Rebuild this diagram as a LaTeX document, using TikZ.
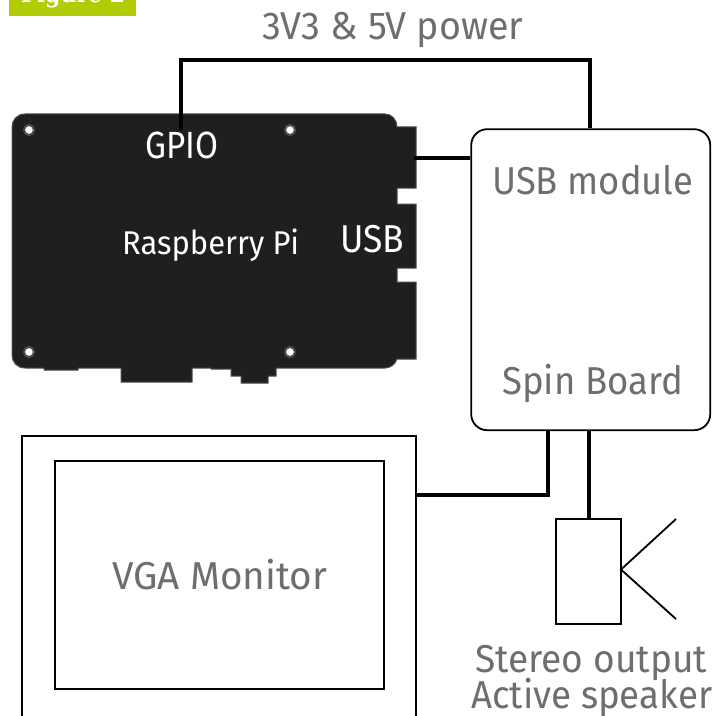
\documentclass[tikz,border=0pt]{standalone}
\usepackage{fontspec}
\setmainfont{Fira Sans}
\newfontfamily\slabfont{DejaVu Serif}
\definecolor{labelgrey}{HTML}{6E6E6E}
\definecolor{boardblack}{HTML}{1F1F1D}
\definecolor{boardedge}{HTML}{4E4E4C}
\definecolor{tabgreen}{HTML}{B1CC05}
\newcommand{\fitw}[2]{\resizebox{#1bp}{\height}{#2}}
\tikzset{
  lbl/.style={inner sep=0pt,anchor=base west,text=labelgrey},
  lblwhite/.style={inner sep=0pt,anchor=base west,text=white},
  wire/.style={draw=black,line width=4bp,line cap=butt,line join=miter},
  thin box/.style={draw=black,line width=1.8bp,fill=white,inner sep=0pt,anchor=north west},
  hole/.style={circle,fill=white,draw=boardedge,line width=2bp,minimum size=10bp,inner sep=0pt}
}
\begin{document}
\begin{tikzpicture}[x=1bp,y=-1bp]
\useasboundingbox (0,0) rectangle (722,716);
% tab
\fill[tabgreen] (9,-2) rectangle (136,16);
\node[lblwhite,text=white] (fig) at (21,3) {\fitw{104}{\fontsize{25}{25}\slabfont\bfseries Figure 2}};
% board
\draw[fill=boardblack,draw=boardedge,line width=1bp]
 (25,114) -- (385,114) .. controls (392,114) and (397,120) .. (397,127)
 -- (416,127) -- (416,188) -- (397,188) -- (397,204) -- (416,204) -- (416,268)
 -- (397,268) -- (397,282) -- (416,282) -- (416,359) -- (397,359)
 .. controls (395,365) and (390,368) .. (385,368) -- (276,368) -- (276,376) -- (268,376)
 -- (268,383) -- (241,383) -- (241,376) -- (231,376) -- (231,369) -- (211,369) -- (211,368)
 -- (192,368) -- (192,382) -- (121,382) -- (121,368) -- (78,368) -- (78,370) -- (44,370)
 -- (44,368) -- (25,368) .. controls (17,368) and (12,362) .. (12,355) -- (12,127)
 .. controls (12,120) and (17,114) .. (25,114) -- cycle;
\node[hole] (h1) at (29,130) {};
\node[hole] (h2) at (290,130) {};
\node[hole] (h3) at (29,352) {};
\node[hole] (h4) at (290,352) {};
% boxes
\node[thin box,rounded corners=16bp,minimum width=239bp,minimum height=301bp] (module) at (470.3,128.3) {};
\node[thin box,minimum width=394bp,minimum height=320bp] (monitor) at (21.3,435.3) {};
\node[thin box,minimum width=329bp,minimum height=228bp] (screen) at (54.3,460.3) {};
\node[thin box,minimum width=65bp,minimum height=105bp] (amp) at (555.3,518.3) {};
% cone
\coordinate (apex) at (621,569.5);
\coordinate (coneA) at (676,519);
\coordinate (coneB) at (676,619);
\draw[line width=1.8bp] (coneA) -- (apex) -- (coneB);
% wires
\coordinate (gpiopin) at (181,130);
\coordinate (usbport) at (414,158);
\draw[wire] (gpiopin) -- (181,60) -- (590,60) -- (module.north -| 590,60);
\draw[wire] (usbport) -- (module.west |- usbport);
\draw[wire] (module.south -| 548,0) -- (548,495) -- (monitor.east |- 0,495);
\draw[wire] (module.south -| 589,0) -- (amp.north -| 589,0);
% labels
\node[lbl] (power) at (262,40) {\fitw{261}{\fontsize{39}{39}\selectfont 3V3 \& 5V power}};
\node[lblwhite] (gpio) at (145,158) {\fitw{73}{\fontsize{38}{38}\selectfont GPIO}};
\node[lblwhite] (pi) at (122,254) {\fitw{177}{\fontsize{33}{33}\selectfont Raspberry Pi}};
\node[lblwhite] (usb) at (340,252) {\fitw{64}{\fontsize{39}{39}\selectfont USB}};
\node[lbl] (usbm) at (492,194) {\fitw{201}{\fontsize{39}{39}\selectfont USB module}};
\node[lbl] (spin) at (502,394) {\fitw{181}{\fontsize{39}{39}\selectfont Spin Board}};
\node[lbl] (vga) at (112,589) {\fitw{215}{\fontsize{39}{39}\selectfont VGA Monitor}};
\node[lbl] (stereo) at (475,672) {\fitw{232}{\fontsize{39}{39}\selectfont Stereo output}};
\node[lbl] (active) at (471,708) {\fitw{241}{\fontsize{39}{39}\selectfont Active speaker}};
\end{tikzpicture}
\end{document}
